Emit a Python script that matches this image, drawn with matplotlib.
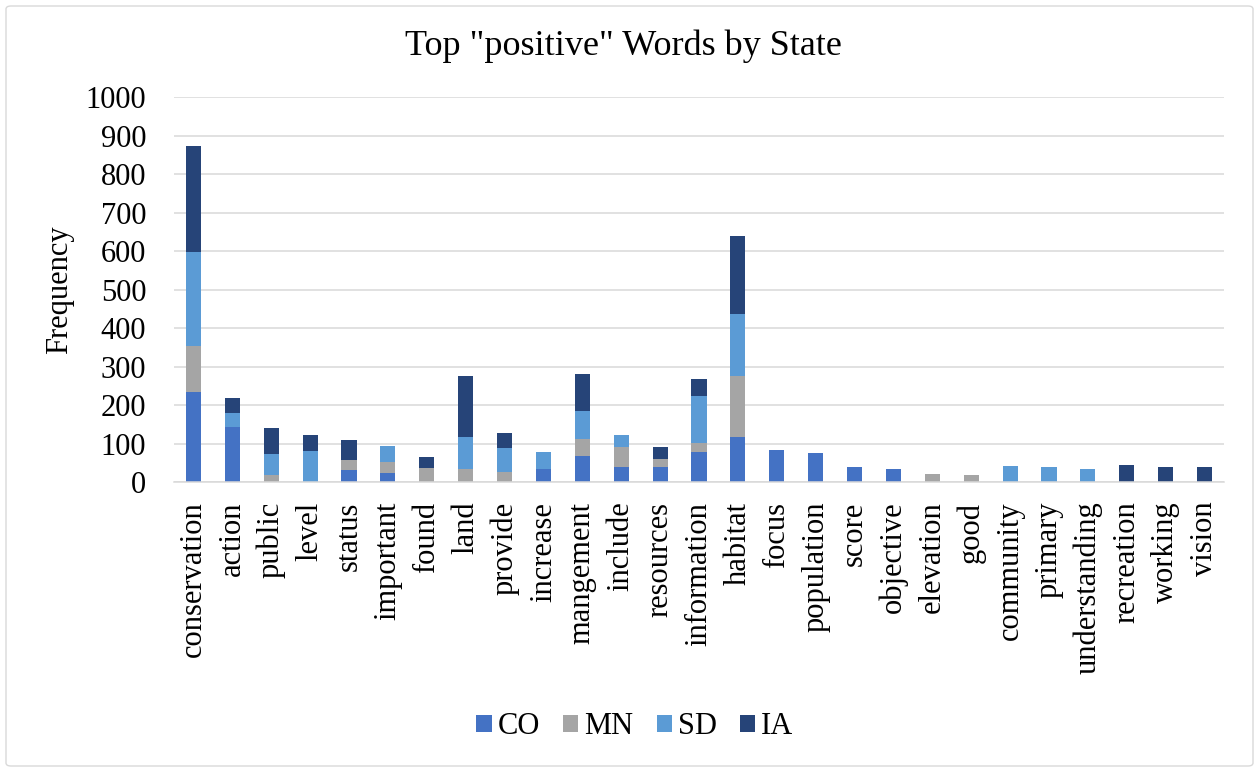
import matplotlib
matplotlib.use("Agg")
import matplotlib.pyplot as plt
from matplotlib.patches import FancyBboxPatch, Patch
import numpy as np

plt.rcParams['font.family'] = ['Liberation Serif', 'DejaVu Serif']

words = ["conservation", "action", "public", "level", "status", "important", "found",
         "land", "provide", "increase", "mangement", "include", "resources", "information",
         "habitat", "focus", "population", "score", "objective", "elevation", "good",
         "community", "primary", "understanding", "recreation", "working", "vision"]

co = [235, 144, 0, 0, 33, 25, 0, 0, 0, 35, 69, 41, 40, 79, 118, 84, 77, 39, 34, 0, 0, 0, 0, 0, 0, 0, 0]
mn = [118, 0, 19, 0, 26, 27, 36, 35, 26, 0, 43, 50, 20, 23, 157, 0, 0, 0, 0, 22, 19, 0, 0, 0, 0, 0, 0]
sd = [244, 35, 54, 80, 0, 41, 0, 82, 62, 43, 72, 32, 0, 122, 162, 0, 0, 0, 0, 0, 0, 43, 41, 34, 0, 0, 0]
ia = [277, 39, 67, 44, 50, 0, 30, 158, 40, 0, 96, 0, 32, 45, 201, 0, 0, 0, 0, 0, 0, 0, 0, 0, 45, 39, 39]

series_names = ["CO", "MN", "SD", "IA"]
series_colors = ["#4472C4", "#A5A5A5", "#5B9BD5", "#264478"]

W, H = 1259, 772
fig = plt.figure(figsize=(W / 100, H / 100), dpi=100)
fig.patch.set_facecolor("white")

# outer chart frame
frame = FancyBboxPatch((6 / W, 6 / H), (W - 12) / W, (H - 12) / H,
                       boxstyle="round,pad=0,rounding_size=0.004",
                       transform=fig.transFigure, facecolor="none",
                       edgecolor="#d9d9d9", linewidth=1.0)
fig.patches.append(frame)

ax = fig.add_axes([174 / W, 1 - 482.3 / H, (1224 - 174) / W, (482.3 - 97) / H])

x = np.arange(len(words))
bottom = np.zeros(len(words))
for vals, name, col in zip([co, mn, sd, ia], series_names, series_colors):
    v = np.array(vals, dtype=float)
    ax.bar(x, v, width=0.39, bottom=bottom, color=col, label=name, zorder=3)
    bottom += v

ax.set_xlim(-0.5, len(words) - 0.5)
ax.set_ylim(0, 1000)
ax.set_yticks(np.arange(0, 1001, 100))
ax.yaxis.grid(True, color="#d9d9d9", linewidth=1.1, zorder=0)
ax.set_axisbelow(True)
for s in ["left", "right", "top"]:
    ax.spines[s].set_visible(False)
ax.spines["bottom"].set_color("#d9d9d9")
ax.spines["bottom"].set_linewidth(1.1)
ax.spines["bottom"].set_zorder(4)

ax.set_xticks(x)
ax.set_xticklabels(words, rotation=90, fontsize=22, va="top", ha="center")
ax.tick_params(axis="x", length=0, pad=14)
ax.tick_params(axis="y", length=0, pad=20, labelsize=22)

fig.text(623 / W, 1 - 46 / H, 'Top "positive" Words by State', fontsize=26,
         ha="center", va="center")
fig.text(60 / W, 1 - 290 / H, "Frequency", fontsize=22, rotation=90,
         ha="center", va="center")

handles = [Patch(facecolor=c, edgecolor="none") for c in series_colors]
fig.legend(handles, series_names, loc="center", bbox_to_anchor=(635 / W, 1 - 727 / H),
           ncol=4, frameon=False, fontsize=22, handlelength=0.5, handleheight=0.5,
           handletextpad=0.2, columnspacing=0.75)

fig.savefig("out.png", dpi=100, facecolor="white")
